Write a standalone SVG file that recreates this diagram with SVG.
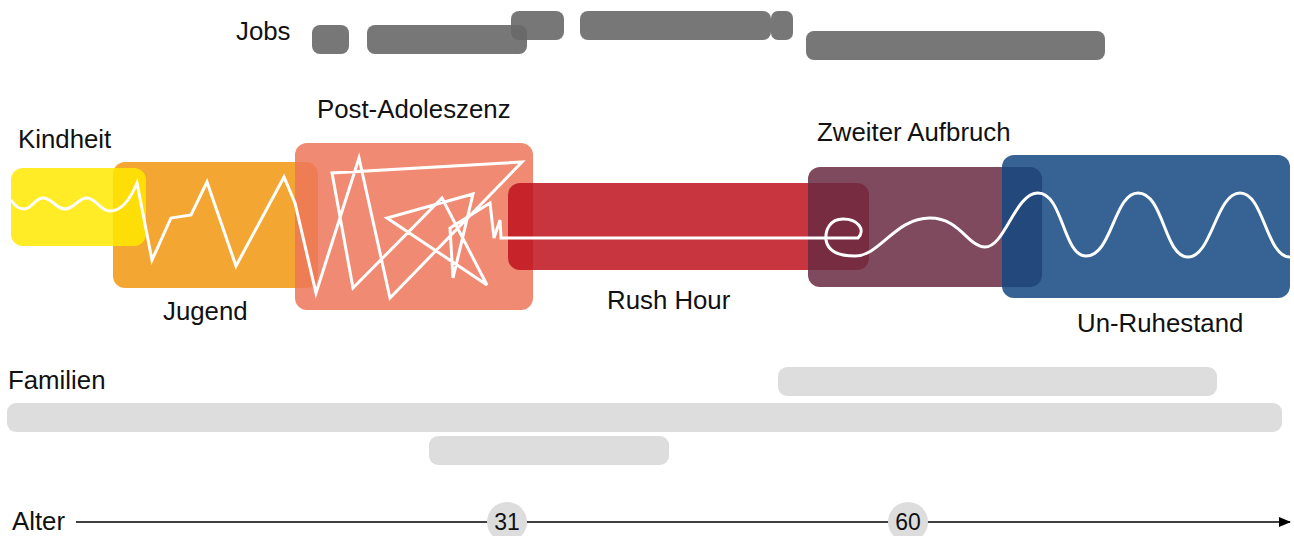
<svg xmlns="http://www.w3.org/2000/svg" width="1294" height="536" viewBox="0 0 1294 536">
<style>
text{font-family:"Liberation Sans",Arial,sans-serif;font-size:25.8px;fill:#111}
.job{fill:#686868;fill-opacity:0.9}
.fam{fill:#dddddd}
.phase{fill-opacity:0.85}
.life{fill:none;stroke:#fff;stroke-width:3;stroke-linejoin:miter;stroke-linecap:butt}
.axis{stroke:#000;stroke-width:1.6}
.tick{fill:#dddddd}
.ticklabel{font-size:23px;text-anchor:middle}
</style>
<defs>
<marker id="arrow" markerWidth="12" markerHeight="10" refX="11" refY="5" orient="auto" markerUnits="userSpaceOnUse">
<path d="M0,0 L12,5 L0,10 Z" fill="#000"/>
</marker>
</defs>
<g id="jobs">
<text x="236" y="40">Jobs</text>
<rect class="job" x="312" y="25" width="37" height="29" rx="8"/>
<rect class="job" x="367" y="25" width="160" height="29" rx="8"/>
<rect class="job" x="511" y="11" width="53" height="29" rx="8"/>
<rect class="job" x="580" y="11" width="191" height="29" rx="8"/>
<rect class="job" x="771" y="11" width="22" height="29" rx="7"/>
<rect class="job" x="806" y="31" width="299" height="29" rx="8"/>
</g>
<g id="jugend">
<rect class="phase" x="113" y="162" width="205" height="126" rx="12" fill="#f2970f"/>
<text x="163" y="320">Jugend</text>
</g>
<g id="kindheit">
<rect class="phase" x="11" y="168" width="135" height="78" rx="12" fill="#ffe800"/>
<text x="18" y="148">Kindheit</text>
</g>
<g id="post-adoleszenz">
<rect class="phase" x="295" y="143" width="238" height="167" rx="12" fill="#ed755a"/>
<text x="317" y="118">Post-Adoleszenz</text>
</g>
<g id="rush-hour">
<rect class="phase" x="508" y="183" width="361" height="87" rx="12" fill="#be121d"/>
<text x="607" y="309">Rush Hour</text>
</g>
<g id="zweiter-aufbruch">
<rect class="phase" x="808" y="167" width="234" height="120" rx="12" fill="#692a42"/>
<text x="817" y="141">Zweiter Aufbruch</text>
</g>
<g id="un-ruhestand">
<rect class="phase" x="1002" y="155" width="288" height="143" rx="12" fill="#134881"/>
<text x="1077" y="332">Un-Ruhestand</text>
</g>
<g id="lifeline">
<path class="life" d="M11 200 C16 207 19 209 24 209 C32 209 35 198 43 198 C52 198 56 209 65 209 C74 209 78 198 87 198 C96 198 100 211 110 211 C122 211 130 200 137 183 L152 260 L171 218 L191 215 L207 182 L236 266 L284 177 L295 203 L316 293 L359 158 L390 298 L522 162 L332 173 L353 288 L442 198 L487 285 L387 218 L473 194 L453 278 L450 228 L490 203 L494 238 L500 220 L501 238 L858 238 C866 230 858 219 843 219 C830 219 825 230 826 240 C828 252 840 256 855 256 C880 256 895 218 930 218 C960 218 968 247 985 247 C1005 247 1015 193 1038 193 C1063 193 1063 256 1086 256 C1112 256 1114 193 1138 193 C1164 193 1164 257 1188 257 C1212 257 1216 193 1240 193 C1264 193 1266 257 1290 257"/>
</g>
<g id="familien">
<text x="8" y="389">Familien</text>
<rect class="fam" x="778" y="367" width="439" height="29" rx="9"/>
<rect class="fam" x="7" y="403" width="1275" height="29" rx="9"/>
<rect class="fam" x="429" y="436" width="240" height="29" rx="9"/>
</g>
<g id="connectors">
<line class="axis" x1="76" y1="522" x2="1290" y2="522" marker-end="url(#arrow)"/>
</g>
<g id="alter">
<text x="12" y="530">Alter</text>
</g>
<g id="tick-31">
<circle class="tick" cx="507" cy="522" r="20"/>
<text class="ticklabel" x="507" y="530">31</text>
</g>
<g id="tick-60">
<circle class="tick" cx="908" cy="522" r="20"/>
<text class="ticklabel" x="908" y="530">60</text>
</g>
</svg>
